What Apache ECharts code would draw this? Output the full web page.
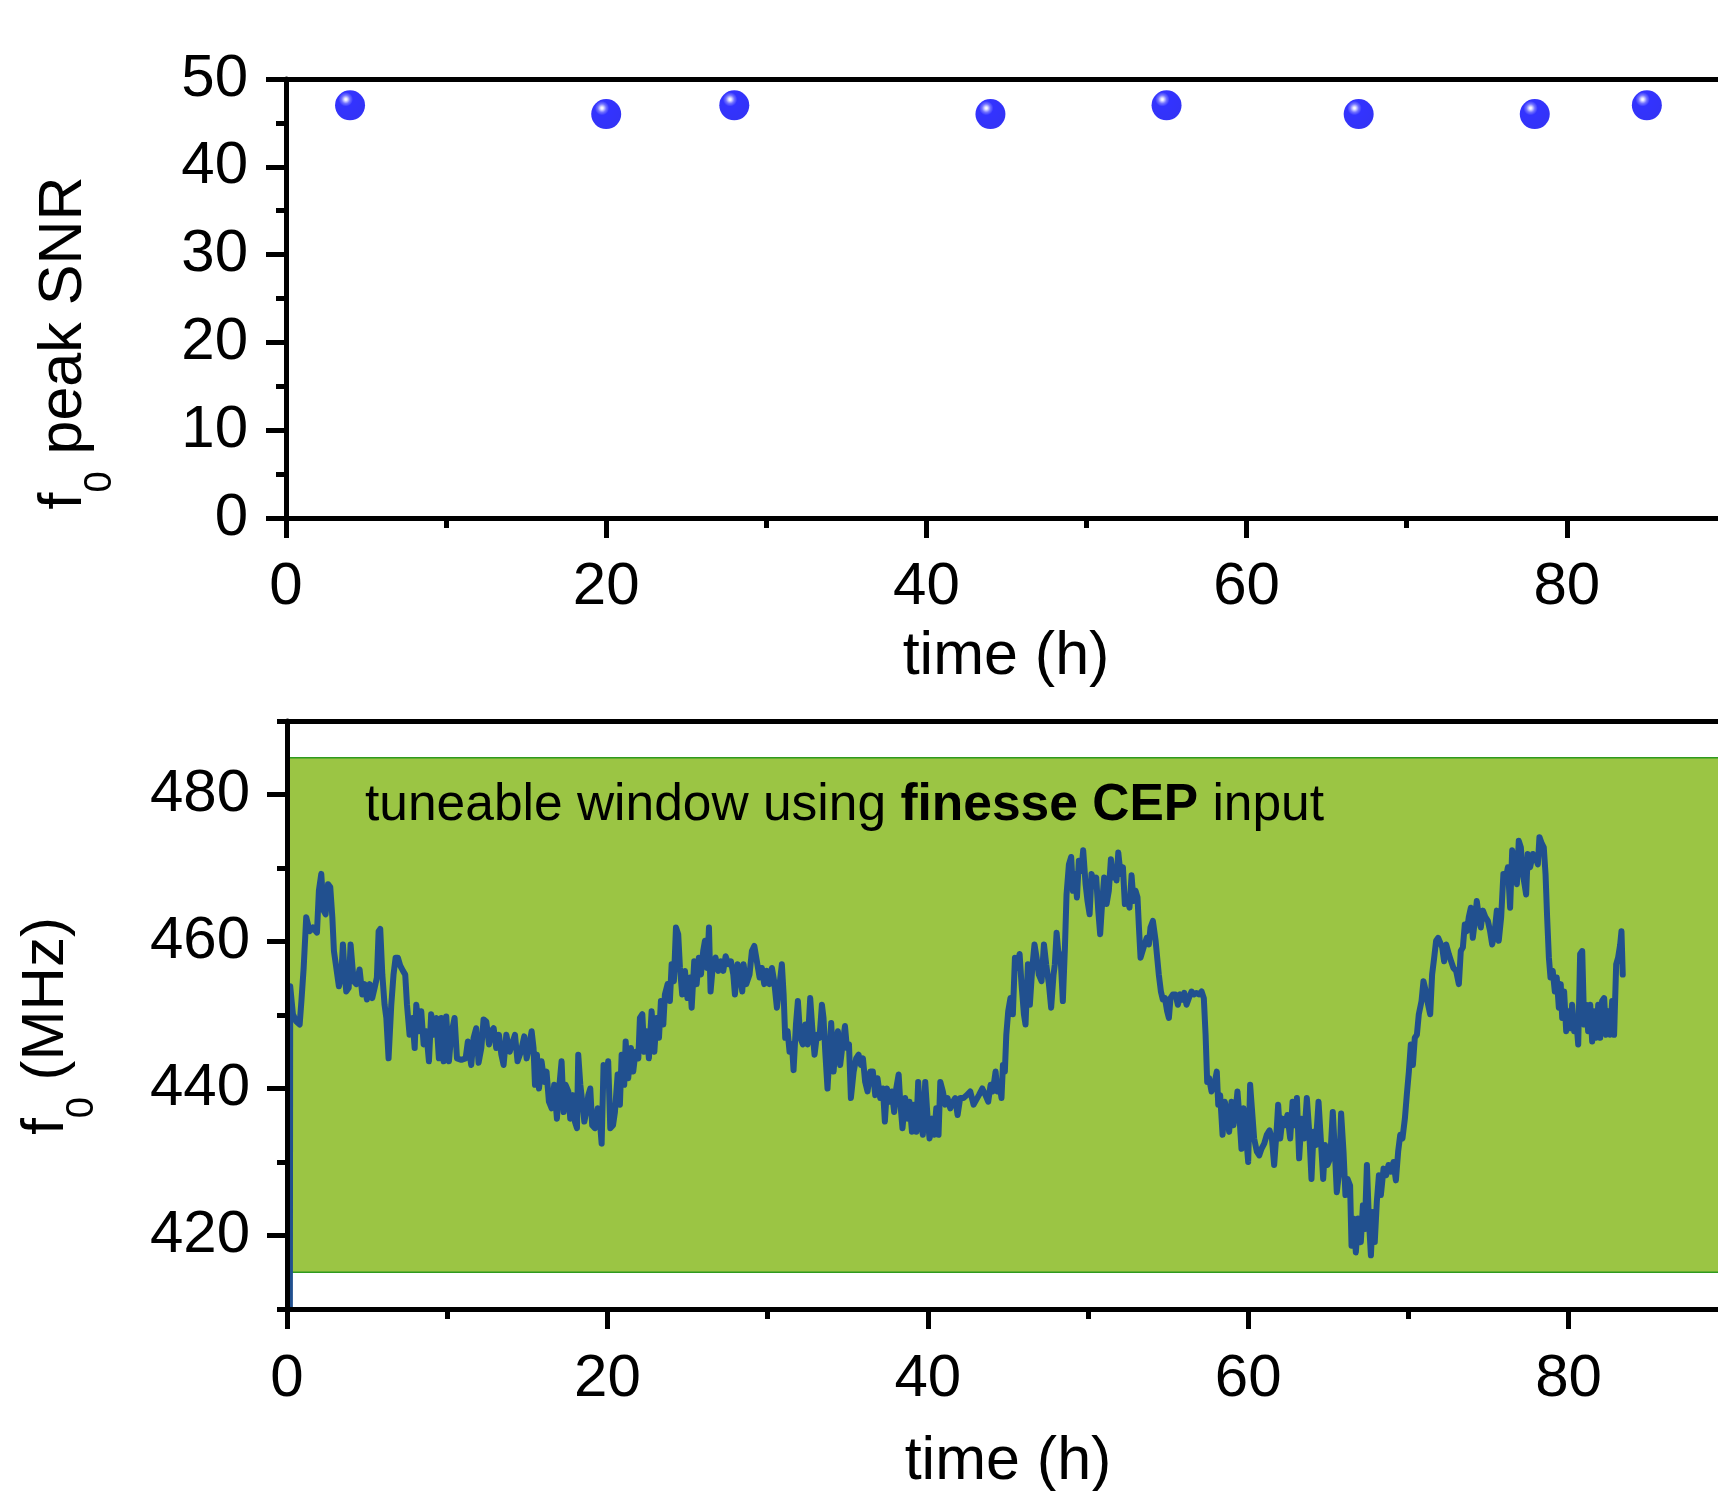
<!DOCTYPE html>
<html>
<head>
<meta charset="utf-8">
<script src="https://cdn.jsdelivr.net/npm/echarts@6/dist/echarts.min.js"></script>
<style>
html,body{margin:0;padding:0;background:#fff;}
#chart{width:1718px;height:1491px;}
</style>
</head>
<body>
<div id="chart"></div>
<script>
// ---- Top panel: f0 peak SNR ----
const snrHours = [4, 20, 28, 44, 55, 67, 78, 85];
const snrValues = [47, 46, 47, 46, 47, 46, 46, 47];

// ---- Bottom panel: f0 (MHz) trace, [time (h), f0 (MHz)] ----
const f0Trace = [
[0.18,410],[0.2,453.9],[0.37,450.1],[0.58,449.1],[0.79,448.7],[0.9,451.9],[1.04,456.4],[1.2,463.3],[1.41,461.4],[1.62,461.9],[1.87,461.2],[1.99,466.9],[2.14,469.2],[2.28,464.2],[2.41,463.7],[2.56,467.8],[2.7,467.4],[2.83,463.3],[2.93,458.7],[3.08,456.4],[3.24,453.9],[3.39,455.5],[3.49,459.6],[3.6,455.5],[3.7,453.2],[3.85,453.7],[3.97,459.6],[4.07,459.6],[4.16,454.6],[4.32,454.2],[4.53,456.2],[4.7,452.8],[4.84,454.2],[4.99,452.1],[5.16,454.2],[5.32,452.3],[5.47,453.7],[5.61,455.1],[5.72,461.4],[5.82,461.7],[5.95,455.5],[6.09,451.4],[6.2,449.6],[6.34,444.1],[6.51,451.4],[6.65,455.5],[6.78,457.8],[6.92,457.8],[7.07,456.7],[7.24,456.0],[7.38,455.5],[7.49,451.4],[7.65,447.3],[7.82,449.6],[7.97,445.5],[8.07,451.4],[8.24,447.8],[8.38,450.5],[8.53,446.0],[8.69,447.8],[8.86,443.7],[9.0,450.1],[9.15,447.3],[9.32,449.6],[9.48,444.1],[9.63,449.6],[9.78,443.7],[9.94,449.8],[10.11,443.7],[10.25,447.3],[10.46,449.6],[10.61,444.1],[10.88,443.9],[11.15,444.1],[11.29,446.4],[11.5,443.2],[11.65,446.9],[11.81,448.2],[11.96,443.5],[12.13,445.5],[12.27,449.4],[12.44,449.1],[12.61,446.0],[12.75,447.8],[12.9,448.2],[13.06,445.5],[13.23,447.3],[13.38,444.6],[13.52,443.2],[13.69,447.3],[13.9,445.0],
[14.02,445.0],[14.23,447.3],[14.39,443.7],[14.6,445.0],[14.81,447.1],[14.96,444.1],[15.1,445.5],[15.27,447.8],[15.39,445.5],[15.48,440.5],[15.6,444.6],[15.73,440.0],[15.89,443.7],[16.06,440.9],[16.2,442.3],[16.35,438.2],[16.52,437.3],[16.68,440.5],[16.85,435.9],[16.97,439.6],[17.14,443.7],[17.27,436.8],[17.39,440.5],[17.56,439.6],[17.68,435.9],[17.85,439.1],[17.97,435.5],[18.1,434.6],[18.18,444.6],[18.31,440.5],[18.43,438.2],[18.56,435.5],[18.68,436.8],[18.81,439.1],[18.93,440.0],[19.05,435.0],[19.22,434.6],[19.39,437.3],[19.55,435.0],[19.64,432.5],[19.76,443.2],[19.89,440.5],[20.05,443.7],[20.18,434.6],[20.35,435.0],[20.47,436.8],[20.64,441.9],[20.78,437.8],[20.89,444.6],[21.05,440.5],[21.14,446.4],[21.3,441.4],[21.47,445.5],[21.61,442.3],[21.76,445.0],[21.93,444.1],[22.03,449.6],[22.18,450.1],[22.3,445.0],[22.45,447.8],[22.59,444.1],[22.76,450.5],[22.93,445.0],[23.07,449.6],[23.22,446.9],[23.34,451.9],[23.49,448.7],[23.59,452.8],[23.76,454.2],[23.9,451.9],[24.01,456.9],[24.15,454.6],[24.28,461.9],[24.42,461.0],[24.53,456.4],[24.67,452.8],[24.84,456.0],[25.0,452.3],[25.15,455.1],[25.26,451.0],[25.42,457.3],[25.57,454.2],[25.71,457.8],[25.84,455.5],[25.98,458.7],[26.09,460.1],[26.23,456.4],[26.34,461.9],[26.44,453.2],[26.59,456.9],[26.75,457.8],[26.92,456.0],[27.09,457.3],[27.23,456.0],[27.38,458.0],[27.55,456.9],[27.71,457.3],[27.86,455.5],[27.96,452.8],[28.13,456.9],[28.27,455.5],[28.42,453.2],
[28.5,456.9],[28.67,454.2],[28.87,455.5],[29.02,458.7],[29.17,459.4],[29.33,457.3],[29.5,455.1],[29.64,456.4],[29.79,454.2],[29.96,456.0],[30.12,454.2],[30.27,456.4],[30.41,454.6],[30.58,451.0],[30.75,454.2],[30.89,456.9],[31.0,452.8],[31.1,446.9],[31.25,447.8],[31.37,445.0],[31.52,446.0],[31.62,442.5],[31.77,448.7],[31.89,451.9],[32.04,446.9],[32.2,446.0],[32.35,448.7],[32.5,446.0],[32.66,452.3],[32.79,448.2],[32.93,444.6],[33.08,447.3],[33.24,446.9],[33.39,451.4],[33.49,449.6],[33.6,445.0],[33.74,440.0],[33.87,445.0],[33.97,448.9],[34.12,442.3],[34.26,446.4],[34.39,447.8],[34.53,443.2],[34.68,446.0],[34.83,448.5],[34.95,445.5],[35.08,446.0],[35.2,438.7],[35.37,442.3],[35.53,444.1],[35.68,444.6],[35.82,443.2],[35.95,444.1],[36.09,440.9],[36.24,439.6],[36.41,442.3],[36.57,442.3],[36.72,439.1],[36.86,441.4],[37.03,438.7],[37.2,440.0],[37.32,435.5],[37.45,440.0],[37.61,438.2],[37.76,439.6],[37.9,436.8],[38.03,440.0],[38.18,441.9],[38.28,438.2],[38.42,434.6],[38.59,438.7],[38.74,435.9],[38.86,438.2],[39.01,434.1],[39.15,437.8],[39.28,434.1],[39.4,440.9],[39.53,435.9],[39.69,433.7],[39.84,440.9],[39.99,435.9],[40.11,433.2],[40.26,435.9],[40.4,433.7],[40.53,437.3],[40.67,433.7],[40.78,440.9],[40.94,439.6],[41.09,437.8],[41.23,438.7],[41.4,437.3],[41.57,438.2],[41.71,438.7],[41.86,436.4],[42.02,438.7],[42.23,438.7],[42.44,439.1],[42.65,439.6],[42.86,437.8],
[42.98,437.8],[43.19,439.1],[43.4,440.0],[43.6,439.1],[43.77,438.2],[43.92,440.5],[44.06,439.6],[44.23,442.3],[44.35,439.6],[44.48,440.5],[44.6,438.7],[44.69,443.2],[44.81,442.3],[44.9,447.3],[45.02,450.5],[45.16,452.3],[45.31,450.1],[45.44,457.8],[45.58,456.4],[45.73,458.3],[45.85,454.2],[46.0,450.1],[46.1,448.7],[46.25,456.9],[46.37,451.4],[46.52,456.4],[46.66,459.6],[46.79,457.8],[46.93,455.5],[47.1,454.6],[47.25,459.6],[47.39,456.9],[47.56,454.2],[47.7,451.0],[47.85,455.5],[47.93,456.9],[48.04,461.2],[48.14,458.7],[48.29,457.8],[48.43,451.9],[48.56,459.2],[48.66,466.4],[48.81,470.5],[48.95,471.5],[49.06,466.9],[49.18,469.2],[49.31,466.0],[49.43,471.0],[49.58,469.6],[49.7,472.4],[49.85,467.8],[49.97,465.5],[50.1,463.7],[50.22,469.2],[50.37,467.8],[50.51,468.7],[50.64,464.2],[50.76,461.0],[50.89,465.5],[51.01,468.7],[51.16,465.1],[51.3,466.9],[51.43,471.2],[51.55,468.7],[51.68,470.1],[51.78,468.3],[51.89,472.1],[52.03,469.2],[52.18,470.1],[52.3,465.1],[52.45,466.0],[52.59,464.6],[52.72,469.0],[52.84,465.5],[52.97,466.9],[53.09,466.0],[53.18,461.9],[53.28,457.8],[53.38,457.8],[53.53,459.6],[53.67,460.5],[53.8,459.6],[53.9,461.9],[54.05,462.8],[54.22,460.1],[54.32,457.8],[54.42,455.5],[54.55,453.2],[54.67,452.1],[54.8,452.3],[54.94,450.5],[55.05,449.6],[55.15,452.3],[55.3,452.8],[55.46,452.8],[55.61,451.4],[55.76,452.8],[55.88,452.1],[56.01,453.0],[56.15,451.4],[56.3,452.3],[56.46,453.2],[56.61,452.8],[56.75,453.0],[56.92,452.8],[57.09,453.2],[57.23,452.3],[57.34,447.3],[57.44,440.9],
[57.56,441.4],[57.71,439.6],[57.88,440.5],[58.04,442.3],[58.13,437.8],[58.25,439.1],[58.4,433.7],[58.54,438.2],[58.67,436.8],[58.81,434.1],[58.96,438.2],[59.08,435.0],[59.23,437.3],[59.33,439.6],[59.46,435.9],[59.58,431.8],[59.71,437.3],[59.85,434.1],[60.0,430.0],[60.12,440.5],[60.23,437.3],[60.37,433.2],[60.54,431.4],[60.69,430.9],[60.83,431.8],[61.0,432.5],[61.16,433.7],[61.33,434.3],[61.48,433.2],[61.62,429.6],[61.77,434.1],[61.87,437.8],[62.0,433.2],[62.14,435.9],[62.29,435.0],[62.45,436.4],[62.62,433.2],[62.77,438.2],[62.91,435.0],[63.04,438.7],[63.18,430.5],[63.33,435.9],[63.49,433.2],[63.66,438.7],[63.81,434.1],[63.95,427.7],[64.08,434.1],[64.22,432.3],[64.39,438.2],[64.53,433.2],[64.68,427.7],[64.8,432.3],[64.95,429.6],[65.12,430.5],[65.28,436.8],[65.41,431.4],[65.53,425.9],[65.68,428.7],[65.8,436.6],[65.95,431.4],[66.07,425.5],[66.2,427.7],[66.36,426.8],[66.45,418.6],[66.57,422.3],[66.72,417.7],[66.86,422.3],[67.03,419.1],[67.16,424.1],[67.28,420.9],[67.41,429.6],[67.53,422.3],[67.66,417.3],[67.78,423.2],[67.9,419.1],[68.03,424.6],[68.16,428.2],[68.28,425.5],[68.45,429.1],[68.61,428.2],[68.76,429.6],[68.9,428.7],[69.07,430.0],[69.22,427.5],[69.36,431.4],[69.49,433.7],[69.63,433.2],[69.78,435.9],[69.9,439.1],[70.03,442.3],[70.15,446.0],[70.28,443.2],[70.4,446.9],[70.53,447.3],[70.65,450.1],[70.82,451.9],[70.94,454.6],[71.09,453.2],[71.23,451.4],[71.36,450.1],[71.48,455.5],[71.61,457.8],[71.73,460.1],[71.86,460.5],
[72.11,459.2],[72.23,457.3],[72.36,459.6],[72.52,458.3],[72.67,457.3],[72.81,456.4],[72.98,456.0],[73.15,454.2],[73.27,458.7],[73.4,459.2],[73.52,462.3],[73.65,461.4],[73.77,463.3],[73.9,464.6],[74.02,460.5],[74.15,462.8],[74.27,465.5],[74.4,463.3],[74.52,461.9],[74.65,464.2],[74.81,463.3],[74.96,462.8],[75.1,461.4],[75.23,459.6],[75.37,461.0],[75.52,464.2],[75.64,460.1],[75.79,463.3],[75.93,469.2],[76.06,468.3],[76.21,470.1],[76.35,464.6],[76.48,472.4],[76.62,470.5],[76.77,467.8],[76.89,473.7],[77.02,472.8],[77.14,469.2],[77.25,467.8],[77.35,466.4],[77.45,471.9],[77.6,470.1],[77.77,471.9],[77.93,471.5],[78.08,470.5],[78.18,474.2],[78.33,473.3],[78.45,472.8],[78.56,469.2],[78.66,463.3],[78.77,457.8],[78.87,455.1],[79.01,456.0],[79.14,453.2],[79.26,455.1],[79.39,451.0],[79.51,454.2],[79.6,449.6],[79.72,453.2],[79.85,447.8],[79.97,450.5],[80.1,448.2],[80.22,451.4],[80.35,447.8],[80.47,449.6],[80.6,446.0],[80.72,458.3],[80.85,458.7],[80.97,448.7],[81.1,451.4],[81.22,447.8],[81.35,451.4],[81.47,446.4],[81.6,450.5],[81.72,446.9],[81.85,451.4],[81.97,446.9],[82.09,451.9],[82.22,452.3],[82.34,447.3],[82.47,450.5],[82.59,447.3],[82.72,451.9],[82.84,447.3],[82.97,456.9],[83.09,457.8],[83.22,459.6],[83.3,461.4],[83.38,455.5]
];

// tuneable window limits (MHz)
const windowLow = 415;
const windowHigh = 485;

// tick positions
const f0MajorTicks = [420, 440, 460, 480];
const f0MinorTicks = [410, 430, 450, 470, 490];

const FONT = '"Liberation Sans", Arial, Helvetica, sans-serif';
const AX = 5;
const black = '#000';

function baseX(gridIndex, margin) {
  return {
    type: 'value', gridIndex: gridIndex, min: 0, max: 100, interval: 20, position: 'bottom', z: 10,
    axisLine: {show: true, onZero: false, lineStyle: {color: black, width: AX}},
    axisTick: {show: true, inside: false, length: 20, lineStyle: {color: black, width: AX}},
    minorTick: {show: true, splitNumber: 2, length: 10, lineStyle: {color: black, width: AX}},
    axisLabel: {show: true, margin: margin, fontSize: 60, color: black, fontFamily: FONT},
    splitLine: {show: false}, minorSplitLine: {show: false}
  };
}
function topBorder(gridIndex) {
  return {
    type: 'value', gridIndex: gridIndex, min: 0, max: 100, position: 'top', z: 10,
    axisLine: {show: true, onZero: false, lineStyle: {color: black, width: AX}},
    axisTick: {show: false}, axisLabel: {show: false}, splitLine: {show: false}
  };
}

const option = {
  backgroundColor: '#fff',
  animation: false,
  grid: [
    {left: 286, top: 79, width: 1601, height: 439, containLabel: false, outerBoundsMode: 'none'},
    {left: 287, top: 721, width: 1602, height: 588, containLabel: false, outerBoundsMode: 'none'}
  ],
  xAxis: [baseX(0, 39), topBorder(0), baseX(1, 40), topBorder(1)],
  yAxis: [
    {
      type: 'value', gridIndex: 0, min: 0, max: 50, interval: 10, position: 'left', z: 10,
      axisLine: {show: true, onZero: false, lineStyle: {color: black, width: AX}},
      axisTick: {show: true, length: 20, lineStyle: {color: black, width: AX}},
      minorTick: {show: true, splitNumber: 2, length: 10, lineStyle: {color: black, width: AX}},
      axisLabel: {margin: 38, fontSize: 60, color: black, fontFamily: FONT},
      splitLine: {show: false}
    },
    {
      type: 'value', gridIndex: 1, min: 410, max: 490, interval: 10, position: 'left', z: 10,
      axisLine: {show: true, onZero: false, lineStyle: {color: black, width: AX}},
      axisTick: {show: true, length: 20, customValues: f0MajorTicks, lineStyle: {color: black, width: AX}},
      axisLabel: {margin: 37, fontSize: 60, color: black, fontFamily: FONT, customValues: f0MajorTicks},
      splitLine: {show: false}
    },
    {
      type: 'value', gridIndex: 1, min: 410, max: 490, interval: 10, position: 'left', offset: 0, z: 10,
      axisLine: {show: false},
      axisTick: {show: true, length: 10, customValues: f0MinorTicks, lineStyle: {color: black, width: AX}},
      axisLabel: {show: false},
      splitLine: {show: false}
    }
  ],
  series: [
    {
      type: 'scatter', xAxisIndex: 0, yAxisIndex: 0,
      data: snrHours.map((h, i) => [h, snrValues[i]]),
      symbol: 'circle', symbolSize: 30,
      itemStyle: {
        color: {type: 'radial', x: 0.36, y: 0.3, r: 0.7, colorStops: [
          {offset: 0, color: '#ffffff'},
          {offset: 0.06, color: '#e4e4ff'},
          {offset: 0.2, color: '#5050ff'},
          {offset: 0.34, color: '#0000ff'},
          {offset: 1, color: '#0000f4'}
        ]}
      }
    },
    {
      type: 'line', xAxisIndex: 2, yAxisIndex: 1,
      data: f0Trace, showSymbol: false, symbol: 'none', clip: true,
      lineStyle: {color: '#21508F', width: 6, join: 'round', cap: 'round'},
      markArea: {
        silent: true,
        itemStyle: {color: '#9BC544', borderColor: '#2F9A1E', borderWidth: 1.5},
        label: {show: false},
        data: [[{xAxis: 0, yAxis: windowLow}, {xAxis: 100, yAxis: windowHigh}]]
      }
    }
  ],
  graphic: [
    {
      type: 'text', x: 365, y: 806, z: 20,
      style: {
        text: '{n|tuneable window using }{b|finesse CEP}{n| input}',
        verticalAlign: 'middle', align: 'left',
        rich: {
          n: {fontSize: 51.5, fontFamily: FONT, fill: black},
          b: {fontSize: 51.5, fontFamily: FONT, fontWeight: 'bold', fill: black}
        }
      }
    },
    {
      type: 'text', x: 69, y: 343, rotation: Math.PI / 2, z: 20,
      style: {
        text: '{m|f}{s|0}{m| peak SNR}', align: 'center', verticalAlign: 'middle',
        rich: {
          m: {fontSize: 61, fontFamily: FONT, fill: black, lineHeight: 70, verticalAlign: 'top'},
          s: {fontSize: 38, fontFamily: FONT, fill: black, lineHeight: 40, verticalAlign: 'top', padding: [48, 0, 0, 0]}
        }
      }
    },
    {
      type: 'text', x: 51, y: 1026, rotation: Math.PI / 2, z: 20,
      style: {
        text: '{m|f}{s|0}{m| (MHz)}', align: 'center', verticalAlign: 'middle',
        rich: {
          m: {fontSize: 60, fontFamily: FONT, fill: black, lineHeight: 70, verticalAlign: 'top'},
          s: {fontSize: 38, fontFamily: FONT, fill: black, lineHeight: 40, verticalAlign: 'top', padding: [48, 0, 0, 0]}
        }
      }
    },
    {
      type: 'text', x: 1006, y: 657, z: 20,
      style: {text: 'time (h)', fontSize: 61, fontFamily: FONT, fill: black, align: 'center', verticalAlign: 'middle'}
    },
    {
      type: 'text', x: 1008, y: 1462, z: 20,
      style: {text: 'time (h)', fontSize: 61, fontFamily: FONT, fill: black, align: 'center', verticalAlign: 'middle'}
    }
  ]
};

const chart = echarts.init(document.getElementById('chart'), null, {renderer: 'canvas'});
chart.setOption(option);
</script>
</body>
</html>
